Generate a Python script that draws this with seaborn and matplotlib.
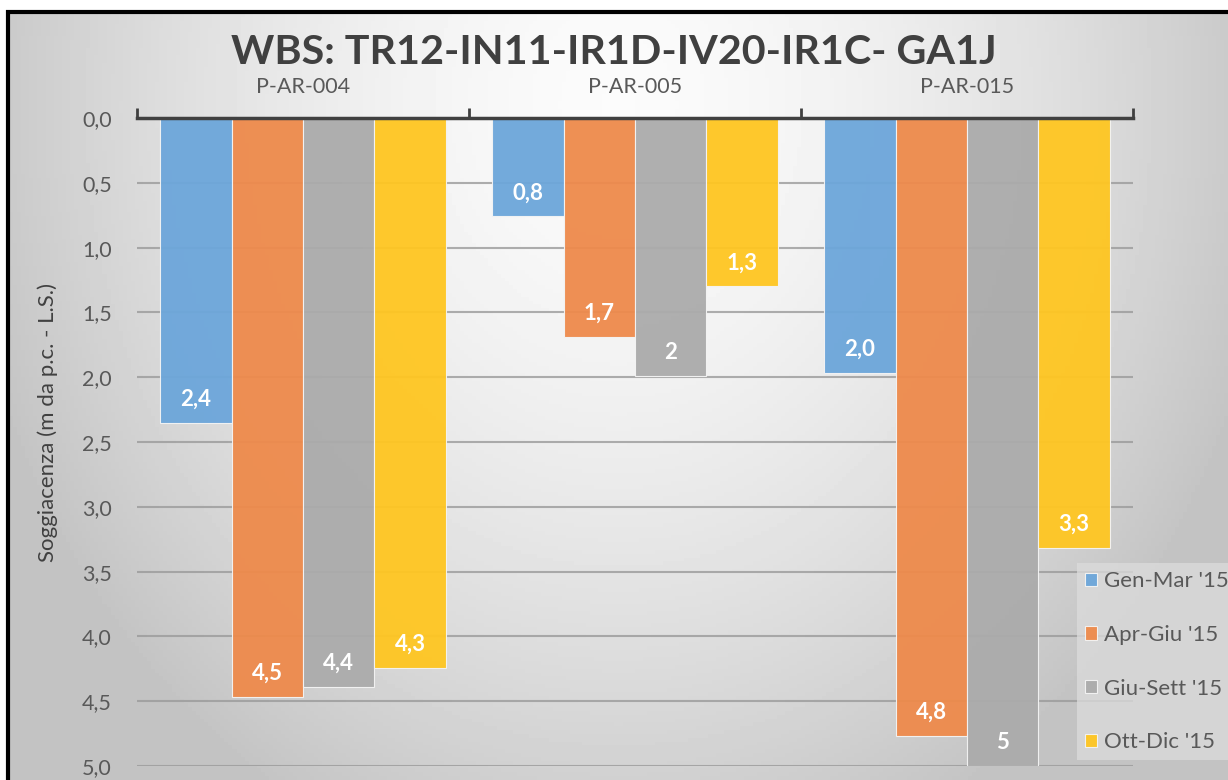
import numpy as np
import pandas as pd
import matplotlib.pyplot as plt
import seaborn as sns
from matplotlib.patches import Rectangle

# Data

pozzi = ["P-AR-004", "P-AR-005", "P-AR-015"]
periodi = ["Gen-Mar '15", "Apr-Giu '15", "Giu-Sett '15", "Ott-Dic '15"]

gen_mar = [2.35, 0.76, 1.97]
apr_giu = [4.47, 1.69, 4.77]
giu_sett = [4.39, 1.99, 5.00]
ott_dic = [4.24, 1.30, 3.32]

# labels as shown on the bars
lab_gen_mar = ["2,4", "0,8", "2,0"]
lab_apr_giu = ["4,5", "1,7", "4,8"]
lab_giu_sett = ["4,4", "2", "5"]
lab_ott_dic = ["4,3", "1,3", "3,3"]

y_ticks = [0.0, 0.5, 1.0, 1.5, 2.0, 2.5, 3.0, 3.5, 4.0, 4.5, 5.0]

colori = ["#6CA6DA", "#EE8A4B", "#ABABAB", "#FFC621"]

# Long format table

serie = [gen_mar, apr_giu, giu_sett, ott_dic]
df = pd.DataFrame({
    "pozzo": pozzi * 4,
    "periodo": [p for p in periodi for _ in pozzi],
    "soggiacenza": [v for s in serie for v in s],
})
etichette = [lab_gen_mar, lab_apr_giu, lab_giu_sett, lab_ott_dic]

# Style

sns.set_style("white")
plt.rcParams["font.family"] = ["Lato", "DejaVu Sans"]

W, H = 1228, 780
fig = plt.figure(figsize=(W / 100, H / 100), dpi=100)
fig.patch.set_facecolor("white")

# Gradient background inside the frame

bx0, by1 = 9 / W, (H - 13) / H
bg = fig.add_axes([bx0, 0, 1 - bx0, by1], zorder=0)
gx, gy = np.meshgrid(np.linspace(0, 1, 300), np.linspace(0, 1, 200))
r = np.sqrt(((gx - 0.5) / 0.55) ** 2 + ((gy - 0.12) / 1.05) ** 2)
grad = 0.985 - 0.22 * np.clip(r, 0, 1) ** 1.6
bg.imshow(grad, cmap="gray", vmin=0, vmax=1, extent=[0, 1, 0, 1],
          aspect="auto", origin="upper")
bg.axis("off")

fig.patches.append(Rectangle((bx0 - 1.5 / W, -0.1), 1.2, by1 + 0.1 + 1.5 / H,
                             transform=fig.transFigure, fill=False,
                             edgecolor="black", linewidth=3, zorder=5))

# Main chart

ax = fig.add_axes([137 / W, 14 / H, (1133 - 137) / W, (766 - 118) / H], zorder=1)
ax.set_facecolor("none")

sns.barplot(
    data=df,
    x="pozzo",
    y="soggiacenza",
    hue="periodo",
    palette=colori,
    saturation=1,
    width=0.86,
    alpha=0.95,
    edgecolor="#f4f4f4",
    linewidth=0.8,
    legend=True,
    ax=ax
)

ax.set_ylim(5, 0)
ax.set_xlim(-0.5, 2.5)

ax.set_yticks(y_ticks)
ax.set_yticklabels([f"{v:.1f}".replace(".", ",") for v in y_ticks])
ax.tick_params(axis="y", length=0, pad=18, labelsize=15.5, labelcolor="#595959")
ax.grid(axis="y", color="#9a9a9a", linewidth=1.5, alpha=0.8)
ax.grid(axis="x", visible=False)
ax.set_axisbelow(True)

ax.xaxis.tick_top()
ax.set_xticks([-0.5, 0.5, 1.5, 2.5])
ax.set_xticklabels([])
ax.set_xticks([0, 1, 2], minor=True)
ax.set_xticklabels(pozzi, minor=True)
ax.tick_params(axis="x", which="major", direction="out", length=7, width=2,
               color="#404040", top=True, bottom=False)
ax.tick_params(axis="x", which="minor", length=0, pad=15, labelsize=15.5,
               labelcolor="#595959", top=True, bottom=False)
ax.set_xlabel("")

for s in ["left", "right", "bottom"]:
    ax.spines[s].set_visible(False)
ax.spines["top"].set_color("#404040")
ax.spines["top"].set_linewidth(2.5)

ax.set_ylabel("")
fig.text(48 / W, 1 - 423 / H, "Soggiacenza (m da p.c. - L.S.)", rotation=90,
         ha="center", va="center", fontsize=16, color="#404040")

# Bar labels

for cont, labs in zip(ax.containers, etichette):
    for bar, lab in zip(cont, labs):
        ax.annotate(
            lab,
            (bar.get_x() + bar.get_width() / 2, bar.get_y() + bar.get_height()),
            xytext=(0, 17),
            textcoords="offset points",
            ha="center",
            va="center",
            color="white",
            fontweight="bold",
            fontsize=16
        )

# Title

fig.text(0.5, 1 - 52 / H, "WBS: TR12-IN11-IR1D-IV20-IR1C- GA1J",
         ha="center", va="center", fontsize=29.7, fontweight="bold", color="#404040")

# Legend

handles, labels = ax.get_legend_handles_labels()
leg = ax.legend(
    handles,
    labels,
    loc="upper left",
    bbox_to_anchor=(1077 / W, 1 - 563 / H),
    bbox_transform=fig.transFigure,
    frameon=True,
    fancybox=False,
    fontsize=16,
    labelspacing=1.52,
    handlelength=0.54,
    handleheight=0.54,
    handletextpad=0.3,
    borderpad=0.36,
    borderaxespad=0
)
leg.get_frame().set_facecolor("#dcdcdc")
leg.get_frame().set_edgecolor("none")
leg.get_frame().set_alpha(0.75)
for t in leg.get_texts():
    t.set_color("#595959")

plt.savefig("out.png", dpi=100)
